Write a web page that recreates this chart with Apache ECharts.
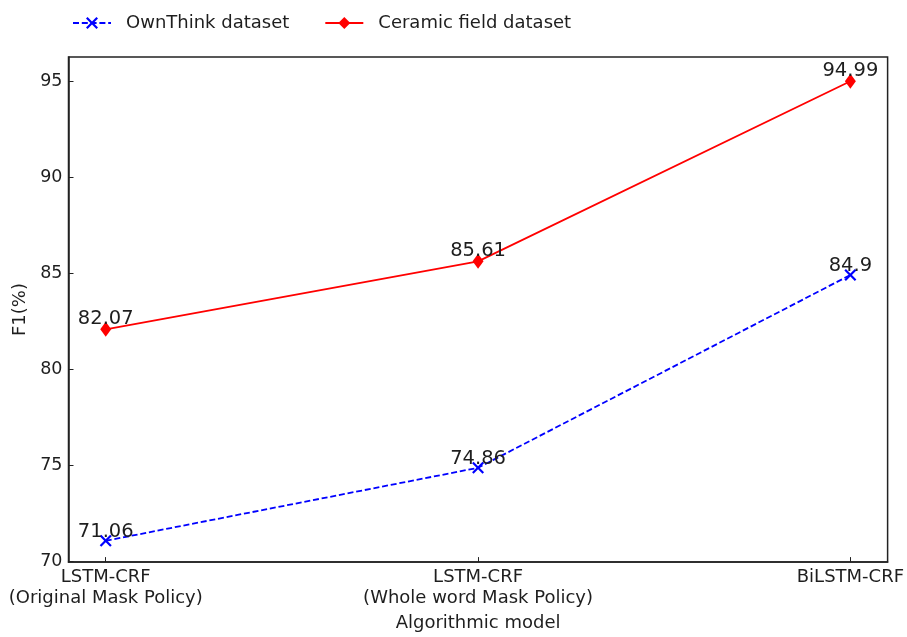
<!DOCTYPE html>
<html>
<head>
<meta charset="utf-8">
<script src="https://cdn.jsdelivr.net/npm/echarts@6/dist/echarts.min.js"></script>
<style>
  html, body { margin: 0; padding: 0; background: #ffffff; }
  #chart { width: 907px; height: 637px; }
</style>
</head>
<body>
<div id="chart"></div>
<script>
// Model names along the x axis
const models = ['LSTM-CRF\n(Original Mask Policy)', 'LSTM-CRF\n(Whole word Mask Policy)', 'BiLSTM-CRF'];
// F1 scores (%) per dataset
const ownThinkF1 = [71.06, 74.86, 84.9];
const ceramicF1 = [82.07, 85.61, 94.99];
// Y axis tick values
const yTicks = [70, 75, 80, 85, 90, 95];
const xTicks = models.map((_, i) => i);

const FONT = '"DejaVu Sans", sans-serif';
const TEXT = '#1e1e1e';
const FRAME = '#222222';

// Thin "x" cross marker drawn as a filled outline
const crossPath = 'path://M0,1.3 L1.3,0 L5,3.7 L8.7,0 L10,1.3 L6.3,5 L10,8.7 L8.7,10 L5,6.3 L1.3,10 L0,8.7 L3.7,5 Z';

const toPairs = arr => arr.map((v, i) => [i, v]);

const chart = echarts.init(document.getElementById('chart'), null, { renderer: 'canvas' });

chart.setOption({
  animation: false,
  backgroundColor: '#ffffff',
  textStyle: { fontFamily: FONT },
  legend: {
    top: 9,
    left: 67,
    itemWidth: 38,
    itemHeight: 15,
    itemGap: 35,
    textStyle: { fontFamily: FONT, fontSize: 18, color: TEXT, padding: [0, 0, 0, 10] },
    data: [
      { name: 'OwnThink dataset' },
      { name: 'Ceramic field dataset' }
    ]
  },
  grid: {
    left: 68.5, right: 19, top: 57, bottom: 73,
    show: true, borderColor: FRAME, borderWidth: 1.5, containLabel: false
  },
  xAxis: {
    type: 'value',
    min: -0.1, max: 2.1,
    name: 'Algorithmic model',
    nameLocation: 'middle',
    nameGap: 51,
    nameTextStyle: { fontFamily: FONT, fontSize: 18, color: TEXT },
    axisLine: { show: true, onZero: false, lineStyle: { color: FRAME, width: 1.5 } },
    axisTick: { show: true, inside: true, length: 5, customValues: xTicks, lineStyle: { color: FRAME } },
    axisLabel: {
      customValues: xTicks,
      fontFamily: FONT, fontSize: 18, color: TEXT, lineHeight: 21, margin: 5,
      formatter: v => models[Math.round(v)]
    },
    splitLine: { show: false }
  },
  yAxis: {
    type: 'value',
    min: 69.95, max: 96.25,
    name: 'F1(%)',
    nameLocation: 'middle',
    nameGap: 38,
    nameTextStyle: { fontFamily: FONT, fontSize: 18, color: TEXT },
    axisLine: { show: true, onZero: false, lineStyle: { color: FRAME, width: 1.5 } },
    axisTick: { show: true, inside: true, length: 5, customValues: yTicks, lineStyle: { color: FRAME } },
    axisLabel: { customValues: yTicks, fontFamily: FONT, fontSize: 17.5, color: TEXT, margin: 6 },
    splitLine: { show: false }
  },
  series: [
    {
      name: 'OwnThink dataset',
      type: 'line',
      data: toPairs(ownThinkF1),
      symbol: crossPath,
      symbolSize: 12,
      color: '#0000ff',
      itemStyle: { color: '#0000ff' },
      lineStyle: { color: '#0000ff', width: 1.8, type: [6, 2.8] },
      label: {
        show: true, position: 'top', distance: -7,
        fontFamily: FONT, fontSize: 19.5, color: TEXT,
        formatter: p => String(p.value[1])
      },
      z: 3
    },
    {
      name: 'Ceramic field dataset',
      type: 'line',
      data: toPairs(ceramicF1),
      symbol: 'diamond',
      symbolSize: [11, 15],
      color: '#ff0000',
      itemStyle: { color: '#ff0000' },
      lineStyle: { color: '#ff0000', width: 1.8 },
      label: {
        show: true, position: 'top', distance: -7,
        fontFamily: FONT, fontSize: 19.5, color: TEXT,
        formatter: p => String(p.value[1])
      },
      z: 3
    }
  ]
});
</script>
</body>
</html>
